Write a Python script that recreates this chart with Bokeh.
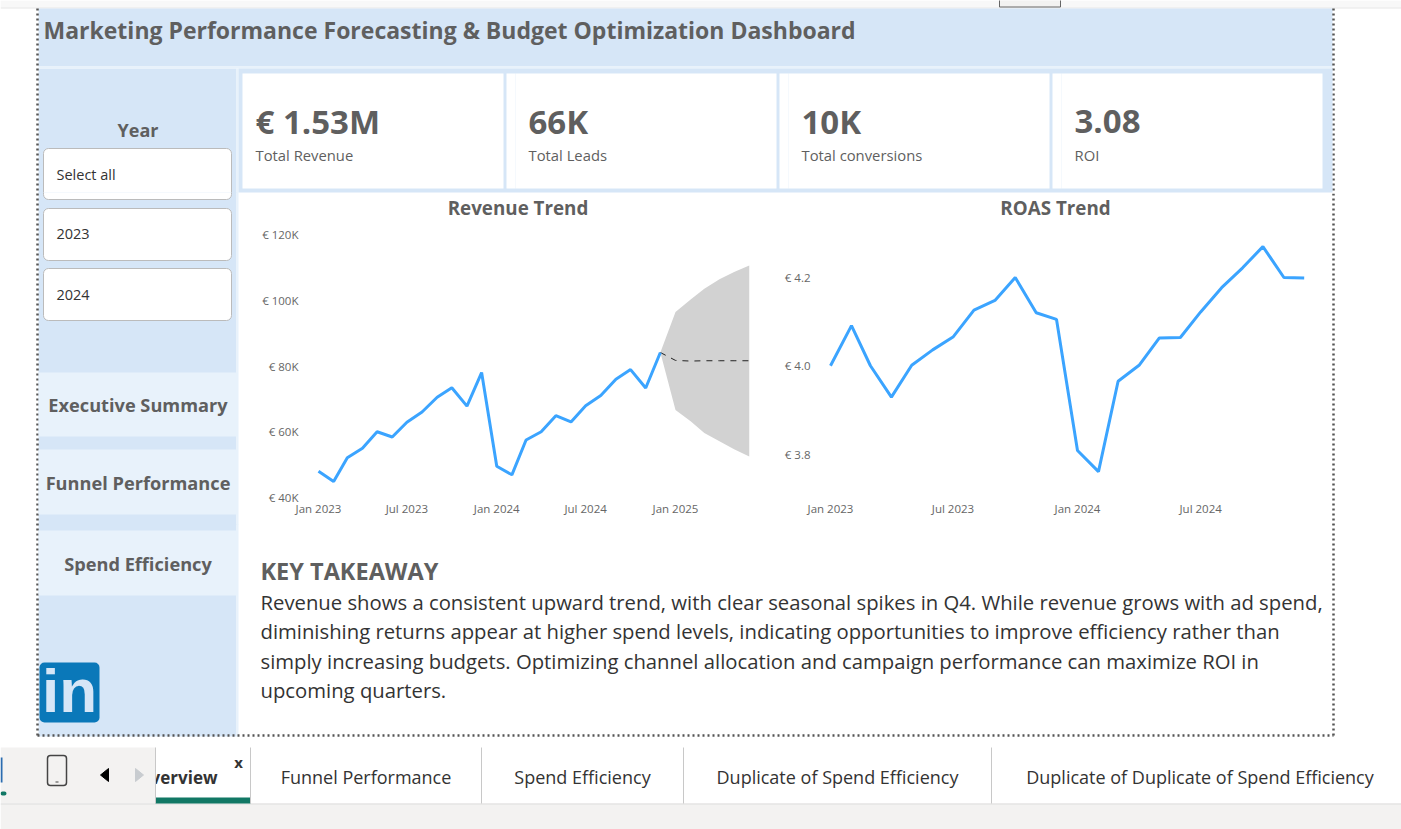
from datetime import datetime, timedelta
from bokeh.core.properties import value
from bokeh.embed import file_html
from bokeh.layouts import column, row
from bokeh.models import Range1d, FixedTicker, DatetimeTickFormatter
from bokeh.plotting import figure
from bokeh.resources import INLINE

# ---------- data ----------
months = ["2023-01","2023-02","2023-03","2023-04","2023-05","2023-06","2023-07","2023-08","2023-09","2023-10","2023-11","2023-12",
          "2024-01","2024-02","2024-03","2024-04","2024-05","2024-06","2024-07","2024-08","2024-09","2024-10","2024-11","2024-12"]
revenue = [48000,44900,52100,55000,60000,58400,62900,66000,70500,73400,67800,78000,
           49500,46900,57500,60000,64900,63000,67900,71000,76000,78900,73300,84100]
roas = [4.000,4.091,4.000,3.929,4.001,4.036,4.065,4.126,4.148,4.200,4.120,4.105,
        3.808,3.760,3.965,4.001,4.063,4.064,4.122,4.177,4.222,4.270,4.200,4.199]
fc_months = ["2024-12","2025-01","2025-02","2025-03","2025-04","2025-05","2025-06"]
fc_mid = [84100,81700,81500,81600,81600,81600,81600]
fc_upper = [84100,96400,100200,103500,106400,108600,110600]
fc_lower = [84100,66600,63200,59600,57100,54700,52500]
rev_ticks = [40000,60000,80000,100000,120000]
rev_tick_labels = ["€ 40K","€ 60K","€ 80K","€ 100K","€ 120K"]
roas_ticks = [3.8,4.0,4.2]
roas_tick_labels = ["€ 3.8","€ 4.0","€ 4.2"]
rev_date_ticks = ["2023-01","2023-07","2024-01","2024-07","2025-01"]
roas_date_ticks = ["2023-01","2023-07","2024-01","2024-07"]
kpi_values = ["€ 1.53M","66K","10K","3.08"]
kpi_labels = ["Total Revenue","Total Leads","Total conversions","ROI"]
slicer_items = ["Select all","2023","2024"]
nav_items = ["Executive Summary","Funnel Performance","Spend Efficiency"]
takeaway = ["Revenue shows a consistent upward trend, with clear seasonal spikes in Q4. While revenue grows with ad spend,",
            "diminishing returns appear at higher spend levels, indicating opportunities to improve efficiency rather than",
            "simply increasing budgets. Optimizing channel allocation and campaign performance can maximize ROI in",
            "upcoming quarters."]
tabs = ["Funnel Performance","Spend Efficiency","Duplicate of Spend Efficiency","Duplicate of Duplicate of Spend Efficiency"]

# ---------- style ----------
FONT = "Open Sans"
BAND = "#D6E6F7"
PALE = "#E8F2FB"
GREY = "#5F5F5F"
LINE = "#3BA4FF"
DARK = "#333333"
CHROME = "#F3F2F1"

def dt(s):
    return datetime.strptime(s, "%Y-%m")

def canvas(x0, y0, x1, y1, overlap=0):
    p = figure(width=x1-x0, height=y1-y0, x_range=Range1d(x0, x1), y_range=Range1d(y1, y0),
               x_axis_type=None, y_axis_type=None, toolbar_location=None, output_backend="svg",
               min_border=0, outline_line_color=None, border_fill_color=None, background_fill_color=None,
               frame_align=False, margin=(-overlap, 0, 0, 0))
    p.grid.visible = False
    return p

def box(p, l, r, t, b, color, line=None, radius=0, lw=1):
    p.quad(left=[l], right=[r], top=[t], bottom=[b], fill_color=color,
           line_color=line, line_width=lw, border_radius=radius)

def txt(p, x, y, s, size, color=GREY, bold=False, align="left", font=FONT):
    dx = 1 if align == "left" else 0
    p.text(x=[x - dx], y=[y - 1], text=[s], text_font=value(font), text_font_size=f"{size}px", text_color=color,
           text_align=align, text_baseline="middle", text_font_style="bold" if bold else "normal")

def chrome(p):
    box(p, 38, 1332, 8, 66, BAND)
    box(p, 38, 236, 68, 736, BAND)
    box(p, 38, 1332, 66, 68, PALE)
    box(p, 236, 238, 68, 736, PALE)
    for xs, ys in (([37, 37], [8, 735]), ([1333, 1333], [8, 735]), ([37, 1333], [735, 735])):
        p.line(xs, ys, line_color="#555555", line_width=2.5, line_dash=[2, 3])

# ---------- top strip ----------
top = canvas(0, 0, 1401, 193)
box(top, 0, 1401, 0, 7, "#F8F8F8")
box(top, 0, 1401, 7, 8, "#E6E6E6")
box(top, 999, 1060, -3, 6.5, "#F3F2F1", line="#666666")
chrome(top)
txt(top, 44, 30, "Marketing Performance Forecasting & Budget Optimization Dashboard", 23, bold=True)
box(top, 238, 1332, 68, 192, BAND)
for i, (v, lab) in enumerate(zip(kpi_values, kpi_labels)):
    x = 242 + i * 273
    box(top, x, x + 261, 73, 188, "white")
    if i:
        box(top, x - 9, x, 73, 188, "white")
    txt(top, x + 14, 122, v, 33, bold=True)
    txt(top, x + 14, 155.5, lab, 14.8)
txt(top, 137.5, 130.5, "Year", 18, bold=True, align="center")
box(top, 43, 231, 148, 199, "white", line="#BBBBBB", radius=5)
txt(top, 57, 174.5, slicer_items[0], 14.5, color=DARK)

# ---------- left of the charts ----------
left = canvas(0, 192, 240, 525, overlap=1)
chrome(left)
box(left, 43, 231, 148, 199, "white", line="#BBBBBB", radius=5)
for (t, b, ty), s in zip([(208, 260, 234.5), (268, 320, 295.5)], slicer_items[1:]):
    box(left, 43, 231, t, b, "white", line="#BBBBBB", radius=5)
    txt(left, 57, ty, s, 14.5, color=DARK)
for (t, b, ty, s) in ((372, 436, 405.5, nav_items[0]), (449, 514, 483.5, nav_items[1])):
    box(left, 38, 236, t, b, PALE)
    txt(left, 137.5, ty, s, 18.2, bold=True, align="center")

# ---------- charts ----------
HEAD = 37       # px of frame kept above the top tick row, room for the chart title
TITLE_UP = 26.5 # px from the top tick row up to the middle of the title

def chart(width, frame_left, title, title_px, px_per_day, first_px, lo, hi, yticks, ylabels, dticks):
    span = timedelta(days=(width - frame_left) / px_per_day)
    start = dt(months[0]) - timedelta(days=first_px / px_per_day)
    per_px = (hi - lo) / 263
    p = figure(width=width, height=332, x_axis_type="datetime",
               x_range=Range1d(start, start + span), y_range=Range1d(lo, hi + HEAD * per_px),
               toolbar_location=None, output_backend="svg", outline_line_color=None,
               min_border_left=frame_left, min_border_right=0, min_border_top=4, min_border_bottom=28,
               background_fill_color="white", border_fill_color="white", frame_align=False)
    p.grid.visible = False
    p.text(x=[start + timedelta(days=(title_px - frame_left) / px_per_day)], y=[hi + TITLE_UP * per_px], text=[title],
           text_font=value(FONT), text_font_size="18.8px", text_font_style="bold", text_color=GREY,
           text_align="center", text_baseline="middle")
    for ax in (p.xaxis[0], p.yaxis[0]):
        ax.axis_line_color = None
        ax.major_tick_line_color = None
        ax.minor_tick_line_color = None
        ax.major_tick_out = 0
        ax.major_tick_in = 0
        ax.minor_tick_out = 0
        ax.minor_tick_in = 0
        ax.major_label_text_font = FONT
        ax.major_label_text_font_size = "11.5px"
        ax.major_label_text_color = "#666666"
    p.xaxis[0].major_label_standoff = 3
    p.yaxis[0].major_label_standoff = 5
    p.xaxis[0].ticker = FixedTicker(ticks=[dt(d).timestamp() * 1000 for d in dticks])
    p.xaxis[0].formatter = DatetimeTickFormatter(months="%b %Y", days="%b %Y", years="%b %Y", hours="%b %Y")
    p.yaxis[0].ticker = FixedTicker(ticks=yticks)
    p.yaxis[0].major_label_overrides = dict(zip(yticks, ylabels))
    return p

mdates = [dt(m) for m in months]
fdates = [dt(m) for m in fc_months]

rev = chart(530, 63, "Revenue Trend", 277.5, 357 / 731, 15, 40000, 120000, rev_ticks, rev_tick_labels, rev_date_ticks)
rev.varea(x=fdates, y1=fc_lower, y2=fc_upper, fill_color="#D2D2D2")
rev.line(x=fdates, y=fc_mid, line_color="#222222", line_width=1, line_dash=[6, 6])
rev.line(x=mdates, y=revenue, line_color=LINE, line_width=3)

UNIT = 441.25
ro_top = 4.2 + 43 / UNIT
ro = chart(561, 45, "ROAS Trend", 285, 247 / 365, 15, ro_top - 263 / UNIT, ro_top, roas_ticks, roas_tick_labels, roas_date_ticks)
ro.line(x=mdates, y=roas, line_color=LINE, line_width=3)

right = canvas(1331, 193, 1401, 525)
right.line([1333, 1333], [193, 525], line_color="#555555", line_width=2.5, line_dash=[2, 3])

# ---------- bottom ----------
bot = canvas(0, 524, 1401, 829, overlap=1)
chrome(bot)
box(bot, 38, 236, 530, 595, PALE)
txt(bot, 137.5, 564.5, nav_items[2], 18.2, bold=True, align="center")
txt(bot, 261, 571, "KEY TAKEAWAY", 23.5, bold=True)
for i, s in enumerate(takeaway):
    txt(bot, 261, 602 + i * 29.6, s, 20.3, color=DARK)
box(bot, 39, 99, 662, 722, "#0A78B9", radius=5)
txt(bot, 69, 691, "in", 62, color="#D6E6F7", bold=True, align="center", font="Liberation Sans")

box(bot, 0, 1401, 747, 803, "white")
txt(bot, 217, 777.5, "verview", 17, color=DARK, bold=True, align="right")
box(bot, 0, 155, 747, 803, CHROME)
box(bot, 0, 1401, 803, 829, CHROME)
bot.line([0, 1401], [803.5, 803.5], line_color="#DDDDDD", line_width=1)
box(bot, 155, 250, 797, 803, "#117865")
for x in (155, 250, 481, 683, 991):
    bot.line([x, x], [747, 803], line_color="#C8C8C8", line_width=1)
txt(bot, 238, 762, "x", 15, color=DARK, bold=True, align="center")
for (a, b), s in zip([(250, 481), (481, 683), (683, 991), (991, 1408)], tabs):
    txt(bot, (a + b) / 2, 777, s, 18, color=DARK, align="center")
box(bot, 47, 66, 755, 785, CHROME, line="#444444", radius=3, lw=1.5)
box(bot, 55, 58, 781, 782, "#444444")
bot.patch([108, 108, 100], [768, 781, 774.5], color="black")
bot.patch([135, 135, 143], [768, 781, 774.5], color="#C8CCD0")
box(bot, 0, 2, 757, 782, "#2B6CB0")
box(bot, 0, 6, 791, 795, "#117865", radius=2)

page = column(top, row(left, rev, ro, right, spacing=0), bot, spacing=0,
              styles={"position": "absolute", "left": "0px", "top": "0px"})
open("out.html", "w").write(file_html(page, INLINE))
